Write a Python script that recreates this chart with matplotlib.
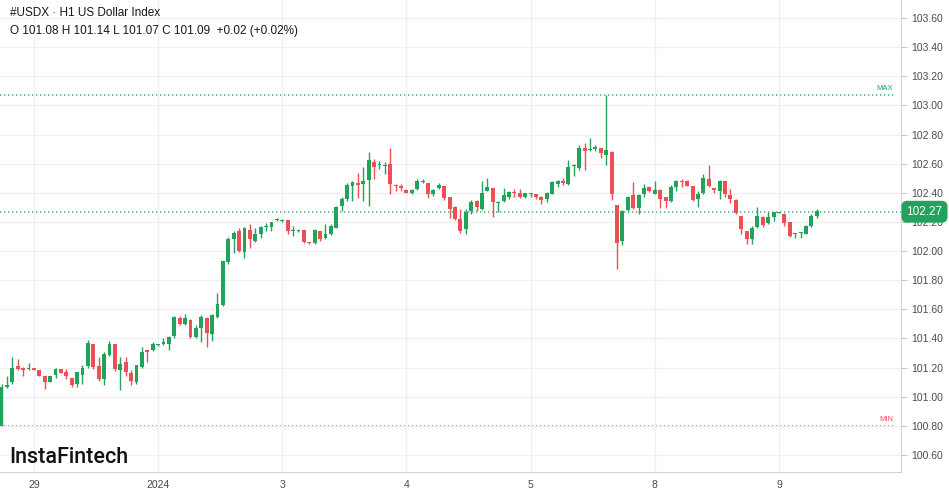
import numpy as np
import pandas as pd
import matplotlib
matplotlib.use('Agg')
import matplotlib.pyplot as plt

plt.rcParams['font.family'] = ['Liberation Sans', 'DejaVu Sans']

# H1 candles, 23 bars per trading day
opens = [100.80, 101.07, 101.10, 101.21, 101.20, 101.19, 101.20, 101.18, 101.14, 101.10,
         101.15, 101.19, 101.17, 101.13, 101.085, 101.15, 101.21, 101.365, 101.21, 101.12,
         101.285, 101.36, 101.18, 101.235, 101.16, 101.10, 101.205, 101.32, 101.32, 101.355,
         101.36, 101.36, 101.42, 101.54, 101.50, 101.53, 101.41, 101.475, 101.54, 101.43,
         101.545, 101.63, 101.925, 102.08, 102.135, 101.995, 102.145, 102.07, 102.115, 102.165,
         102.165, 102.21, 102.205, 102.215, 102.14, 102.14, 102.145, 102.06, 102.055, 102.14,
         102.09, 102.115, 102.16, 102.31, 102.36, 102.45, 102.465, 102.46, 102.49, 102.615,
         102.59, 102.585, 102.595, 102.455, 102.45, 102.42, 102.40, 102.425, 102.475, 102.465,
         102.395, 102.43, 102.45, 102.372, 102.305, 102.22, 102.15, 102.275, 102.345, 102.29,
         102.415, 102.435, 102.33, 102.345, 102.37, 102.405, 102.40, 102.37, 102.39, 102.395,
         102.37, 102.36, 102.395, 102.46, 102.48, 102.46, 102.585, 102.57, 102.707, 102.695,
         102.70, 102.705, 102.66, 102.682, 102.315, 102.07, 102.28, 102.385, 102.295, 102.395,
         102.44, 102.395, 102.42, 102.368, 102.345, 102.443, 102.483, 102.483, 102.444, 102.36,
         102.40, 102.494, 102.43, 102.414, 102.483, 102.384, 102.35, 102.242, 102.14, 102.086,
         102.165, 102.235, 102.19, 102.237, 102.262, 102.253, 102.20, 102.12, 102.125, 102.12,
         102.173, 102.242]
highs = [101.09, 101.14, 101.27, 101.26, 101.205, 101.23, 101.20, 101.18, 101.14, 101.14,
         101.195, 101.19, 101.19, 101.13, 101.17, 101.22, 101.39, 101.365, 101.27, 101.31,
         101.38, 101.365, 101.27, 101.27, 101.18, 101.22, 101.34, 101.32, 101.375, 101.365,
         101.40, 101.42, 101.555, 101.555, 101.57, 101.535, 101.49, 101.56, 101.545, 101.565,
         101.71, 101.935, 102.10, 102.14, 102.16, 102.165, 102.185, 102.16, 102.17, 102.195,
         102.20, 102.225, 102.22, 102.215, 102.17, 102.15, 102.145, 102.06, 102.15, 102.14,
         102.185, 102.185, 102.31, 102.37, 102.47, 102.48, 102.535, 102.575, 102.68, 102.63,
         102.62, 102.615, 102.71, 102.46, 102.46, 102.425, 102.425, 102.495, 102.495, 102.47,
         102.425, 102.47, 102.45, 102.372, 102.31, 102.29, 102.29, 102.35, 102.35, 102.48,
         102.505, 102.435, 102.345, 102.435, 102.41, 102.425, 102.425, 102.40, 102.40, 102.395,
         102.375, 102.405, 102.48, 102.485, 102.505, 102.625, 102.60, 102.725, 102.745, 102.775,
         102.728, 102.71, 103.07, 102.685, 102.315, 102.28, 102.38, 102.475, 102.39, 102.46,
         102.445, 102.483, 102.425, 102.368, 102.453, 102.487, 102.494, 102.487, 102.444, 102.41,
         102.528, 102.593, 102.435, 102.487, 102.483, 102.425, 102.355, 102.242, 102.14, 102.173,
         102.305, 102.24, 102.27, 102.27, 102.27, 102.258, 102.20, 102.127, 102.128, 102.18,
         102.253, 102.288]
lows = [100.80, 101.06, 101.09, 101.18, 101.14, 101.18, 101.18, 101.14, 101.055, 101.10,
        101.13, 101.16, 101.12, 101.07, 101.07, 101.085, 101.20, 101.19, 101.11, 101.08,
        101.28, 101.175, 101.045, 101.145, 101.08, 101.09, 101.20, 101.235, 101.315, 101.35,
        101.355, 101.32, 101.40, 101.495, 101.495, 101.405, 101.405, 101.375, 101.34, 101.385,
        101.54, 101.625, 101.91, 101.99, 101.995, 101.95, 102.02, 102.065, 102.09, 102.14,
        102.14, 102.205, 102.20, 102.12, 102.105, 102.13, 102.055, 102.05, 102.05, 102.07,
        102.085, 102.11, 102.155, 102.275, 102.345, 102.345, 102.365, 102.345, 102.31, 102.495,
        102.565, 102.53, 102.395, 102.415, 102.41, 102.40, 102.395, 102.42, 102.465, 102.365,
        102.38, 102.425, 102.35, 102.23, 102.21, 102.127, 102.115, 102.255, 102.275, 102.285,
        102.41, 102.235, 102.265, 102.34, 102.36, 102.37, 102.365, 102.365, 102.37, 102.36,
        102.32, 102.335, 102.39, 102.44, 102.455, 102.455, 102.515, 102.555, 102.555, 102.69,
        102.69, 102.64, 102.59, 102.35, 101.875, 102.04, 102.272, 102.29, 102.255, 102.368,
        102.405, 102.39, 102.295, 102.295, 102.34, 102.414, 102.443, 102.444, 102.345, 102.30,
        102.39, 102.44, 102.40, 102.356, 102.368, 102.333, 102.253, 102.115, 102.05, 102.05,
        102.16, 102.166, 102.185, 102.207, 102.258, 102.173, 102.097, 102.088, 102.088, 102.118,
        102.166, 102.23]
closes = [101.07, 101.08, 101.20, 101.19, 101.18, 101.20, 101.18, 101.14, 101.10, 101.14,
          101.19, 101.165, 101.14, 101.08, 101.17, 101.20, 101.37, 101.205, 101.125, 101.29,
          101.365, 101.19, 101.225, 101.17, 101.11, 101.215, 101.305, 101.305, 101.36, 101.36,
          101.375, 101.41, 101.55, 101.50, 101.54, 101.41, 101.47, 101.55, 101.435, 101.56,
          101.64, 101.93, 102.08, 102.125, 102.00, 102.155, 102.08, 102.12, 102.165, 102.17,
          102.20, 102.22, 102.215, 102.135, 102.145, 102.14, 102.06, 102.055, 102.145, 102.08,
          102.115, 102.17, 102.305, 102.36, 102.453, 102.475, 102.455, 102.48, 102.625, 102.58,
          102.595, 102.59, 102.46, 102.445, 102.43, 102.40, 102.42, 102.48, 102.48, 102.39,
          102.42, 102.455, 102.365, 102.288, 102.22, 102.14, 102.27, 102.335, 102.30, 102.40,
          102.44, 102.335, 102.34, 102.385, 102.405, 102.40, 102.37, 102.40, 102.395, 102.37,
          102.35, 102.40, 102.475, 102.478, 102.47, 102.58, 102.592, 102.705, 102.69, 102.70,
          102.712, 102.67, 102.695, 102.395, 102.058, 102.276, 102.368, 102.295, 102.385, 102.432,
          102.41, 102.418, 102.355, 102.345, 102.443, 102.483, 102.476, 102.444, 102.35, 102.395,
          102.50, 102.444, 102.418, 102.483, 102.39, 102.36, 102.258, 102.15, 102.08, 102.16,
          102.242, 102.18, 102.235, 102.27, 102.265, 102.196, 102.104, 102.127, 102.128, 102.173,
          102.242, 102.272]

day_labels = ['29', '2024', '3', '4', '5', '8', '9']
first_day_bar = 6
bars_per_day = 23
max_price = 103.07
min_price = 100.80
last_price = 102.27

GREEN = '#22a35c'
RED = '#ef4f54'
DOTS = (0, (0.8, 1.6))

df = pd.DataFrame({'open': opens, 'high': highs, 'low': lows, 'close': closes})
x = np.arange(len(df))
up = df['close'] >= df['open']
colors = np.where(up, GREEN, RED)
body_bottom = np.minimum(df['open'], df['close'])
body_h = np.maximum((df['close'] - df['open']).abs(), 0.006)

fig = plt.figure(figsize=(9.49, 4.94), dpi=100)
ax = fig.add_axes([0, 1 - 472 / 494, 901 / 949, 472 / 494])

ax.vlines(x, df['low'], df['high'], color=colors, linewidth=1, zorder=2)
ax.bar(x, body_h, bottom=body_bottom, width=0.72, color=colors, linewidth=0, zorder=3)

ax.set_xlim(-0.28, 166.6)
ax.set_ylim(100.483, 103.724)

# grid
yt = np.round(np.arange(100.6, 103.61, 0.2), 2)
ax.set_yticks(yt)
ax.set_yticklabels(['%.2f' % v for v in yt])
ax.yaxis.tick_right()
day_pos = [first_day_bar + bars_per_day * k for k in range(len(day_labels))]
ax.set_xticks(day_pos)
ax.set_xticklabels(day_labels)
ax.grid(True, color='#f0f0f2', linewidth=1, zorder=0)
ax.tick_params(axis='y', length=4, width=0.8, color='#c8c8cc', labelsize=7.5,
               labelcolor='#4a4a4a', pad=3)
ax.tick_params(axis='x', length=0, labelsize=7.5, labelcolor='#4a4a4a', pad=6)
for s in ['top', 'left']:
    ax.spines[s].set_visible(False)
for s in ['right', 'bottom']:
    ax.spines[s].set_color('#d4d4d8')
    ax.spines[s].set_linewidth(0.8)

# max / min / last lines
ax.axhline(max_price, color=GREEN, alpha=0.8, linestyle=DOTS, linewidth=1.2, xmax=0.995, zorder=1)
ax.axhline(min_price, color=RED, alpha=0.95, linestyle=DOTS, linewidth=1.2, xmax=0.995, zorder=1)
ax.axhline(last_price, color=GREEN, alpha=0.8, linestyle=DOTS, linewidth=1.2, zorder=1)
ax.text(0.991, max_price + 0.02, 'MAX', transform=ax.get_yaxis_transform(), ha='right',
        va='bottom', fontsize=5.5, color=GREEN)
ax.text(0.991, min_price + 0.02, 'MIN', transform=ax.get_yaxis_transform(), ha='right',
        va='bottom', fontsize=5.5, color=RED)
ax.text(1.006, last_price, '%.2f' % last_price, transform=ax.get_yaxis_transform(),
        ha='left', va='center', fontsize=8.5, color='white', clip_on=False, zorder=10,
        bbox=dict(boxstyle='round,pad=0.42,rounding_size=0.5', fc=GREEN, ec='none'))

# header + logo
fig.text(10 / 949, 1 - 13 / 494, '#USDX \u00b7 H1 US Dollar Index', fontsize=8.5,
         color='#131722', va='center', ha='left')
fig.text(10 / 949, 1 - 31 / 494, 'O 101.08 H 101.14 L 101.07 C 101.09  +0.02 (+0.02%)',
         fontsize=8.5, color='#131722', va='center', ha='left')
fig.text(9 / 949, 1 - 457 / 494, 'InstaFintech', fontsize=15.5, fontweight='medium',
         family=['Roboto', 'DejaVu Sans'], color='#111111', va='center', ha='left')

plt.savefig('out.png', dpi=100)
